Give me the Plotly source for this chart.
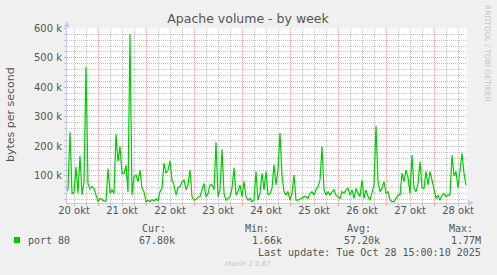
import plotly.graph_objects as go
import pandas as pd

# ---- data (hourly, bytes per second in k) ----
start_time = "2025-10-20 08:00"
volume_k = [
    45, 55, 250, 40, 45, 130, 42, 168, 37, 79, 470, 73, 56, 64, 58, 31,
    13, 24, 18, 15, 15, 125, 42, 53, 41, 242, 148, 200, 109, 109, 136, 45, 580, 35, 98, 103, 81, 120, 58, 47,
    13, 18, 13, 20, 15, 22, 15, 47, 58, 144, 109, 120, 151, 86, 70, 35, 60, 64, 81, 86, 53, 70, 120, 30,
    18, 20, 28, 30, 53, 75, 30, 40, 70, 70, 53, 214, 30, 53, 190, 41, 18, 24, 30, 58, 128, 35, 47, 70,
    30, 81, 30, 18, 24, 13, 18, 115, 18, 41, 109, 53, 115, 35, 40, 58, 138, 70, 120, 245, 100, 47, 35, 47,
    18, 41, 103, 18, 18, 22, 24, 30, 30, 24, 41, 47, 35, 53, 64, 86, 200, 53, 35, 47, 35, 47, 53, 35,
    30, 24, 47, 41, 53, 58, 35, 53, 24, 58, 41, 30, 86, 24, 53, 30, 18, 41, 70, 270, 81, 47, 58, 81,
    41, 47, 18, 13, 13, 24, 35, 35, 109, 81, 120, 95, 41, 171, 58, 47, 75, 149, 60, 58, 115, 70, 115, 86,
    53, 24, 35, 18, 35, 41, 30, 35, 35, 171, 100, 115, 60, 120, 177, 109, 68,
]
x_range = ["2025-10-20 08:30", "2025-10-28 16:30"]
day_labels = ["20 okt", "21 okt", "22 okt", "23 okt", "24 okt", "25 okt", "26 okt", "27 okt", "28 okt"]
label_times = [f"2025-10-{d:02d} 12:00" for d in range(20, 29)]
y_range_k = [8.4, 601]
legend_name = "port 80"
stats = {"Cur:": "67.80k", "Min:": "1.66k", "Avg:": "57.20k", "Max:": "1.77M"}

times = pd.date_range(start_time, periods=len(volume_k), freq="h")

# grid positions (minor grid skips the major positions)
six_hours = pd.date_range("2025-10-20 00:00", "2025-10-29 00:00", freq="6h")
x_minor = [t.strftime("%Y-%m-%d %H:%M") for t in six_hours if t.hour != 0]
y_minor = [v for v in range(0, 620, 20) if v % 100 != 0]

W, H = 497, 275
L, R, T, B = 67, 467, 28, 203


def xp(px):
    return (px - L) / (R - L)


def yp(py):
    return (B - py) / (B - T)


GREEN = "#00cc00"
TXT = "#555555"
MAJ = "#eaa0a0"
MIN = "#c4c4c4"
AXC = "#c8c8f0"
DOT = "1px,1px"

fig = go.Figure()
fig.add_trace(go.Scatter(x=times, y=volume_k, mode="lines",
                         line=dict(color=GREEN, width=1.2), showlegend=False,
                         hoverinfo="skip"))
fig.add_trace(go.Scatter(x=times, y=volume_k, mode="lines", xaxis="x2",
                         line=dict(width=0), opacity=0, showlegend=False,
                         hoverinfo="skip"))

fig.update_layout(
    width=W, height=H,
    margin=dict(l=L, r=W - R, t=T, b=H - B),
    paper_bgcolor="#f0f0f0", plot_bgcolor="#ffffff",
    font=dict(family="DejaVu Sans", color=TXT, size=10),
    title=dict(text="Apache volume - by week", x=248 / W, xanchor="center",
               y=1 - 19 / H, yanchor="middle",
               font=dict(size=12.5, color=TXT, family="DejaVu Sans")),
    xaxis=dict(type="date", range=x_range, tickmode="linear",
               tick0="2025-10-20 00:00", dtick=86400000,
               showticklabels=False, showgrid=True, gridcolor=MAJ,
               griddash=DOT, gridwidth=1,
               ticks="outside", ticklen=2, tickcolor=MAJ,
               minor=dict(tickmode="array", tickvals=x_minor,
                          showgrid=True, gridcolor=MIN, griddash=DOT, gridwidth=1,
                          ticks="outside", ticklen=2, tickcolor=MIN),
               showline=True, linecolor=AXC, linewidth=1, zeroline=False),
    xaxis2=dict(type="date", range=x_range, overlaying="x", anchor="y",
                side="bottom", tickmode="array", tickvals=label_times,
                ticktext=day_labels, showgrid=False, ticks="",
                tickfont=dict(size=10, color=TXT), showline=False,
                zeroline=False),
    yaxis=dict(range=y_range_k, tickmode="linear", tick0=0, dtick=100,
               ticksuffix=" k", tickformat="d", showgrid=True, gridcolor=MAJ,
               griddash=DOT, gridwidth=1, ticks="outside", ticklen=2, tickcolor=MAJ,
               tickfont=dict(size=10, color=TXT),
               minor=dict(tickmode="array", tickvals=y_minor, showgrid=True,
                          gridcolor=MIN, griddash=DOT, gridwidth=1,
                          ticks="outside", ticklen=2, tickcolor=MIN),
               showline=True, linecolor=AXC, linewidth=1, zeroline=False),
)

shapes = [
    dict(type="line", xref="paper", yref="paper", x0=0, x1=0, y0=1, y1=yp(23),
         line=dict(color=AXC, width=1)),
    dict(type="path", xref="paper", yref="paper",
         path=f"M {xp(64)} {yp(27)} L {xp(70)} {yp(27)} L {xp(67)} {yp(21)} Z",
         fillcolor=AXC, line=dict(width=0)),
    dict(type="line", xref="paper", yref="paper", x0=1, x1=xp(471), y0=0, y1=0,
         line=dict(color=AXC, width=1)),
    dict(type="path", xref="paper", yref="paper",
         path=f"M {xp(468)} {yp(200)} L {xp(468)} {yp(206)} L {xp(474)} {yp(203)} Z",
         fillcolor=AXC, line=dict(width=0)),
    dict(type="rect", xref="paper", yref="paper", x0=xp(14), x1=xp(20),
         y0=yp(243), y1=yp(237), fillcolor=GREEN, line=dict(width=0)),
]
fig.update_layout(shapes=shapes)

MONO = "DejaVu Sans Mono"
ann = []


def add(text, px, py, xanchor="left", size=10, color=TXT, family=MONO, angle=0):
    ann.append(dict(text=text, xref="paper", yref="paper", x=xp(px), y=yp(py),
                    xanchor=xanchor, yanchor="middle", showarrow=False,
                    textangle=angle, font=dict(family=family, size=size, color=color)))


add("bytes per second", 10, 115, xanchor="center", size=11, family="DejaVu Sans", angle=-90)
add("RRDTOOL / TOBI OETIKER", 488, 53, xanchor="center", size=7.5, color="#c4c4c4",
    family="DejaVu Sans", angle=90)
add(legend_name, 26, 240)
label_x = {"Cur:": 140, "Min:": 242.7, "Avg:": 345, "Max:": 446.7}
value_right = {"Cur:": 177, "Min:": 284, "Avg:": 382, "Max:": 483}
for k, v in stats.items():
    add(k, label_x[k], 228)
    add(v, value_right[k], 240, xanchor="right")
add("Last update: Tue Oct 28 15:00:10 2025", 483, 252, xanchor="right")
add("Munin 2.0.67", 223, 263.5, size=7, color="#c8c8c8", family="DejaVu Sans")
fig.update_layout(annotations=ann)

fig.write_html("out.html")
